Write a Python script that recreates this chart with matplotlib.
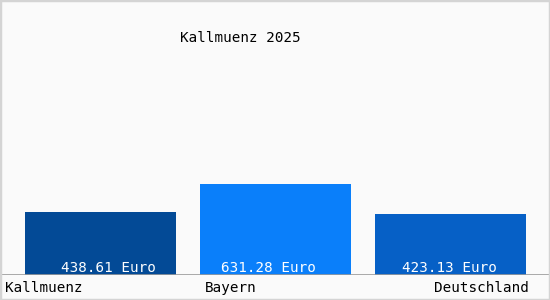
import matplotlib
matplotlib.use("Agg")
import matplotlib.pyplot as plt
from matplotlib.patches import Rectangle

regions = ["Kallmuenz", "Bayern", "Deutschland"]
values = [438.61, 631.28, 423.13]
bar_colors = ["#034a96", "#0a7ffa", "#0660c6"]
title = "Kallmuenz 2025"

W, H = 550, 300
fig = plt.figure(figsize=(W / 100, H / 100), dpi=100)
fig.patch.set_facecolor("#fafafa")
fig.patches.append(Rectangle((0, 0), 1, 1, transform=fig.transFigure,
                             fill=False, edgecolor="#d4d4d4", linewidth=2.5))

font = ["DejaVu Sans Mono"]

# axes: bottom at the baseline (y=275 px), 1 px per ~6.93 Euro
ax = fig.add_axes([0, 25 / H, 1, 275 / H])
ax.set_facecolor("none")
ax.set_xlim(0, W)
ax.set_ylim(0, 275 * 6.93)
ax.axis("off")

lefts = [25, 200, 375]
width = 151
label_shift = [8, -7, -1]  # value labels are not exactly centred in the original
ax.bar(lefts, values, width=width, align="edge", color=bar_colors)
ax.axhline(0, color="#9a9a9a", linewidth=1.2)

for x, v, dx in zip(lefts, values, label_shift):
    ax.text(x + width / 2 + dx, 48, f"{v:.2f} Euro", color="white",
            ha="center", va="center", fontsize=10.3, family=font)

# category labels below the baseline
fig.text(5 / W, 1 - 288 / H, regions[0], ha="left", va="center",
         fontsize=10.3, family=font)
fig.text(205 / W, 1 - 288 / H, regions[1], ha="left", va="center",
         fontsize=10.3, family=font)
fig.text(529 / W, 1 - 288 / H, regions[2], ha="right", va="center",
         fontsize=10.3, family=font)

fig.text(240 / W, 1 - 38 / H, title, ha="center", va="center",
         fontsize=10.3, family=font)

fig.savefig("out.png", dpi=100, facecolor=fig.get_facecolor())
